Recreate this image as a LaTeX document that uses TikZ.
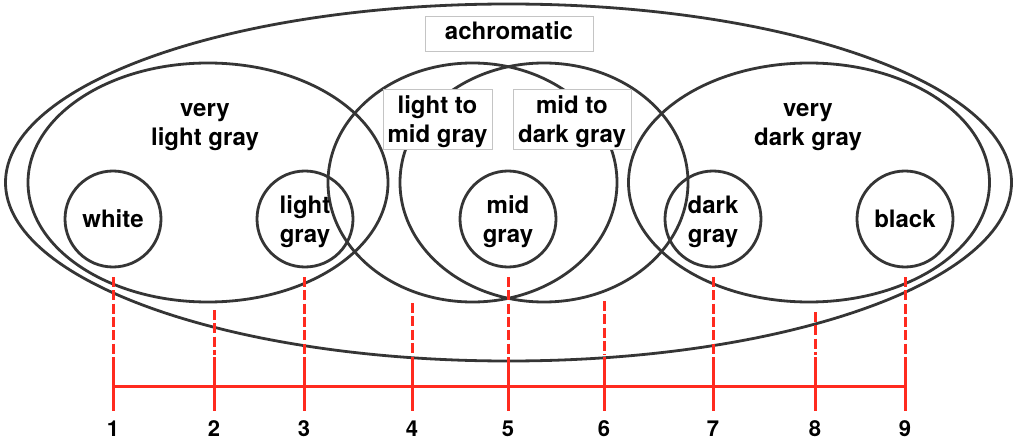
\documentclass[tikz,border=0pt]{standalone}
\usepackage{fontspec}
\setmainfont{TeX Gyre Heros}
\usetikzlibrary{shapes.geometric}
\definecolor{ln}{HTML}{353535}
\definecolor{rd}{HTML}{FF2A1F}
\definecolor{bx}{HTML}{C4C4C4}
\tikzset{
  ring/.style={ellipse, draw=ln, line width=2.8pt, inner sep=0pt},
  lbl/.style={font=\fontsize{24}{29}\selectfont\bfseries, align=center, text=black, inner sep=0pt, text depth=0pt},
  lblbox/.style={lbl, draw=bx, line width=0.8pt, fill=white},
  dot/.style={ring, lbl, draw=ln, minimum size=96pt},
  num/.style={font=\fontsize{22}{26}\selectfont\bfseries, text=black, inner sep=0pt},
  redln/.style={draw=rd, line width=3pt},
  reddash/.style={redln, dash pattern=on 10pt off 3.3pt}
}
\begin{document}
\begin{tikzpicture}[x=1pt,y=-1pt]
\useasboundingbox (0,0) rectangle (1018,441);
% ellipses
\node[ring, minimum width=1006pt, minimum height=357pt] (all) at (508.5,182.5) {};
\node[ring, minimum width=360pt, minimum height=239pt] (vlg) at (208,182.5) {};
\node[ring, minimum width=361pt, minimum height=239pt] (vdg) at (809,182.5) {};
\node[ring, minimum width=289pt, minimum height=239pt] (lmg) at (472.5,182.5) {};
\node[ring, minimum width=288pt, minimum height=239pt] (mdg) at (544,182.5) {};
% circles
\node[dot] (white) at (113,219) {white};
\node[dot] (lgray) at (305,219) {light\\gray};
\node[dot] (mgray) at (508,219) {mid\\gray};
\node[dot] (dgray) at (713,219) {dark\\gray};
\node[dot] (black) at (905,219) {black};
% labels
\node[lblbox, minimum width=168pt, minimum height=35pt, text depth=5pt] (achl) at (509,33.5) {achromatic};
\node[lblbox, minimum width=109pt, minimum height=60pt] (lmgl) at (437.5,119) {light to\\mid gray};
\node[lblbox, minimum width=118pt, minimum height=60pt] (mdgl) at (572,119) {mid to\\dark gray};
\node[lbl] (vlgl) at (205,124) {very\\light gray};
\node[lbl] (vdgl) at (808,124) {very\\dark gray};
% scale
\coordinate (h1) at (113,386);
\coordinate (h9) at (905,386);
\draw[redln] (h1) -- (h9);
\foreach \i/\x/\y in {1/113/277, 2/214/310, 3/304/277, 4/412/303, 5/508/277, 6/604/301, 7/713/277, 8/815/312, 9/905/277} {
  \coordinate (a\i) at (\x,\y);
  \coordinate (m\i) at (\x,355);
  \coordinate (s\i) at (\x,357);
  \coordinate (b\i) at (\x,411);
  \draw[reddash] (a\i) -- (m\i);
  \draw[redln] (s\i) -- (b\i);
  \node[num] (n\i) at (\x,429) {\i};
}
\end{tikzpicture}
\end{document}
